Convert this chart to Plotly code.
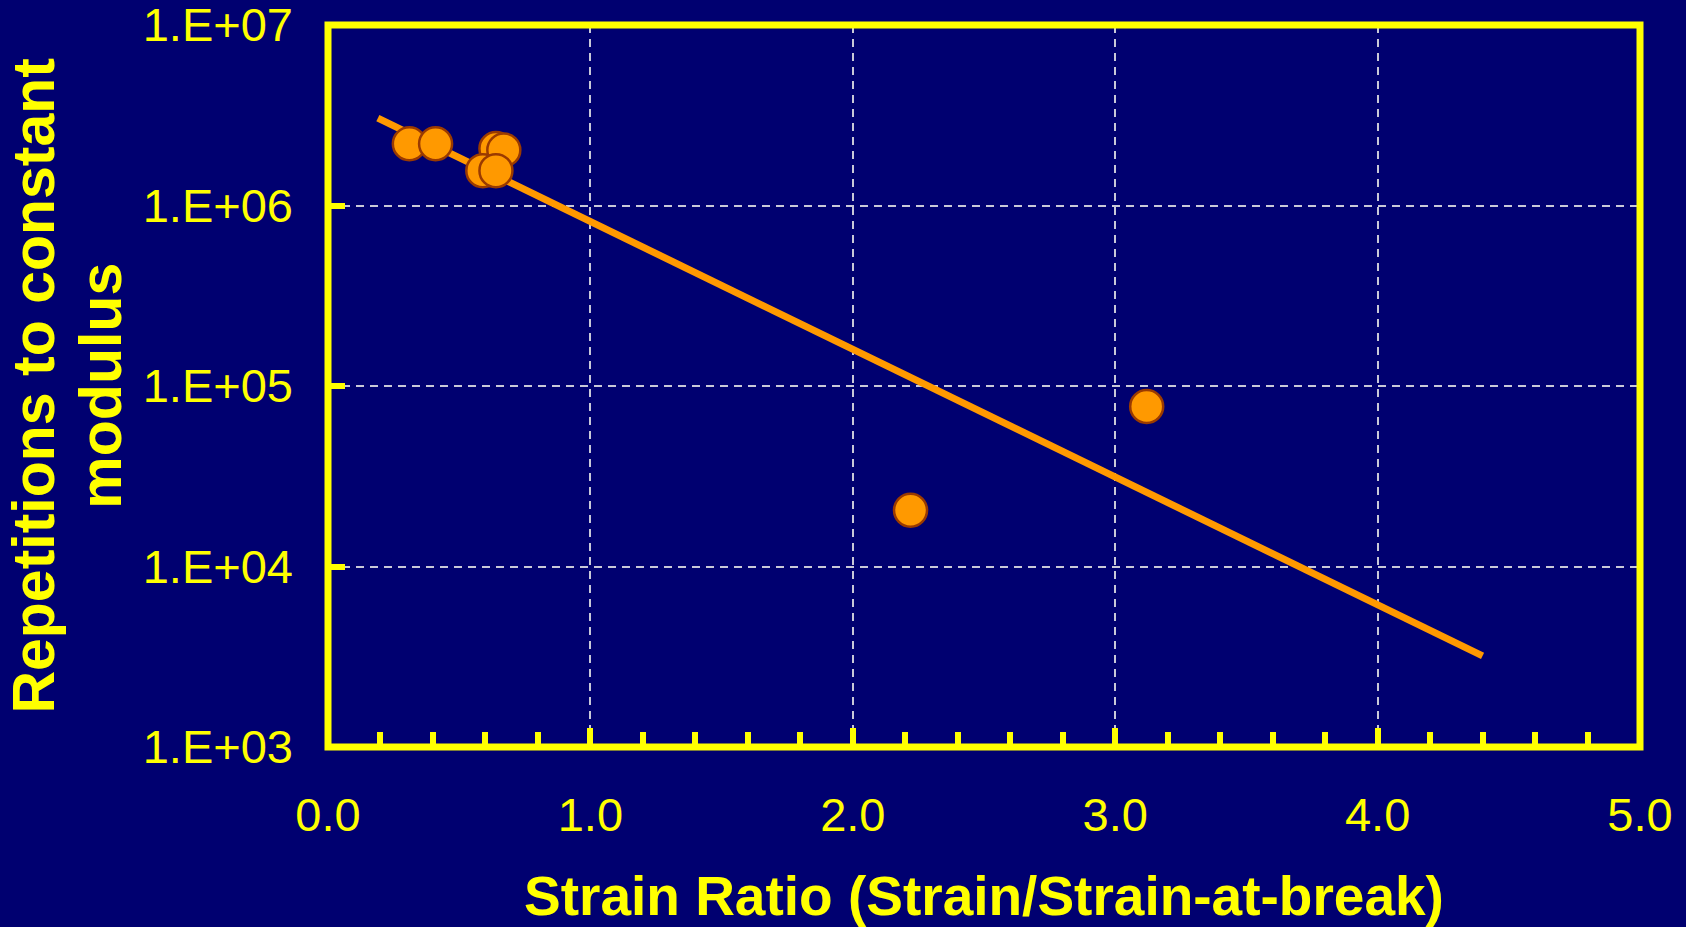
import plotly.graph_objects as go

# Data
strain_ratio = [0.31, 0.41, 0.64, 0.67, 0.59, 0.64, 3.12, 2.22]
repetitions = [2.2e6, 2.2e6, 2.07e6, 2.03e6, 1.56e6, 1.56e6, 7.7e4, 2.05e4]

trend_x = [0.19, 4.40]
trend_y = [3.05e6, 3.2e3]

x_tickvals = [0, 1, 2, 3, 4, 5]
x_ticktext = ["0.0", "1.0", "2.0", "3.0", "4.0", "5.0"]
y_tickvals = [1e3, 1e4, 1e5, 1e6, 1e7]
y_ticktext = ["1.E+03", "1.E+04", "1.E+05", "1.E+06", "1.E+07"]

x_title = "Strain Ratio (Strain/Strain-at-break)"
y_title_lines = ["Repetitions to constant", "modulus"]

BG = "#000070"
YEL = "#FFFF00"
ORANGE = "#FF9900"
GRID = "#C8C8D8"
TICKFONT = dict(family="Liberation Sans, Arial", size=47, color=YEL)
XTITLEFONT = dict(family="Liberation Sans, Arial", size=55, color=YEL, weight="bold")
YTITLEFONT = dict(family="Liberation Sans, Arial", size=59, color=YEL, weight="bold")

fig = go.Figure()
fig.add_trace(go.Scatter(
    x=trend_x, y=trend_y, mode="lines",
    line=dict(color=ORANGE, width=7), hoverinfo="skip", showlegend=False,
))
fig.add_trace(go.Scatter(
    x=strain_ratio, y=repetitions, mode="markers",
    marker=dict(color=ORANGE, size=33, line=dict(color="#9A3A00", width=2.5)),
    showlegend=False,
))

fig.update_layout(
    width=1686, height=927,
    margin=dict(l=328, r=46, t=25, b=180, pad=0, autoexpand=False),
    paper_bgcolor=BG, plot_bgcolor=BG,
    showlegend=False,
)

fig.update_xaxes(
    range=[0, 5], tickvals=x_tickvals, ticktext=x_ticktext,
    showline=False, automargin=False,
    ticks="inside", ticklen=19, tickwidth=6, tickcolor=YEL,
    minor=dict(dtick=0.2, ticks="inside", ticklen=15, tickwidth=6, tickcolor=YEL, showgrid=False),
    showgrid=True, gridcolor=GRID, gridwidth=1.5, griddash="8px,6px",
    zeroline=False, tickfont=TICKFONT, ticklabelstandoff=36,
    ticklabeloverflow="allow",
)
fig.update_yaxes(
    type="log", range=[3, 7], tickvals=y_tickvals, ticktext=y_ticktext,
    showline=False, automargin=False,
    ticks="inside", ticklen=17, tickwidth=6, tickcolor=YEL,
    showgrid=True, gridcolor=GRID, gridwidth=1.5, griddash="8px,6px",
    zeroline=False, tickfont=TICKFONT, ticklabelstandoff=34,
    ticklabeloverflow="allow",
)

# plot frame, centred on the plot-area edges
fig.add_shape(type="rect", xref="paper", yref="paper", x0=0, x1=1, y0=0, y1=1,
              line=dict(color=YEL, width=7), layer="above")

fig.add_annotation(
    text=x_title, xref="paper", yref="paper", x=0.5, y=-0.206,
    xanchor="center", yanchor="middle", showarrow=False, font=XTITLEFONT,
)
for txt, xp in zip(y_title_lines, [-0.2244, -0.1733]):
    fig.add_annotation(
        text=txt, xref="paper", yref="paper", x=xp, y=0.5,
        xanchor="center", yanchor="middle", showarrow=False, textangle=-90,
        font=YTITLEFONT,
    )

fig.write_html("out.html")
